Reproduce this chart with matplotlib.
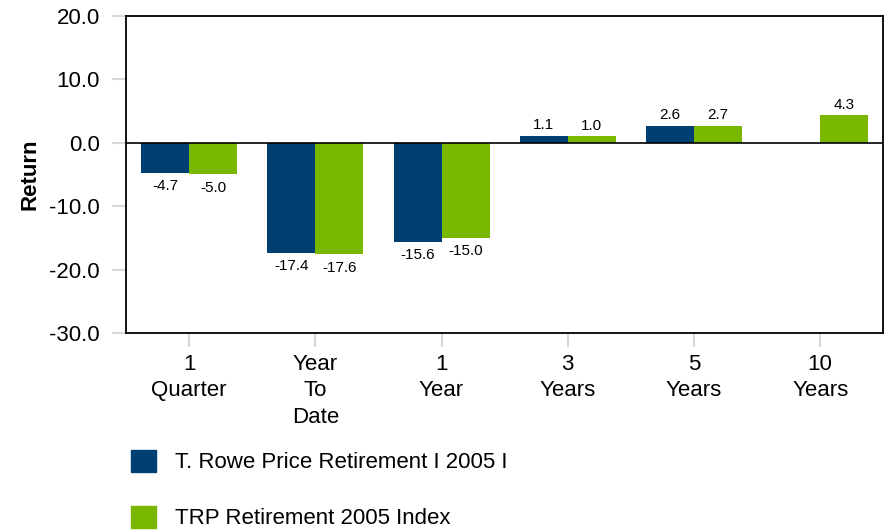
import matplotlib
matplotlib.use("Agg")
from matplotlib import pyplot as plt
from matplotlib.patches import Patch
import numpy as np

plt.rcParams["font.family"] = ["Liberation Sans", "DejaVu Sans"]

categories = ["1\nQuarter", "Year\nTo\nDate", "1\nYear", "3\nYears", "5\nYears", "10\nYears"]
fund = [-4.7, -17.4, -15.6, 1.1, 2.6, np.nan]
index = [-5.0, -17.6, -15.0, 1.0, 2.7, 4.3]
series_names = ["T. Rowe Price Retirement I 2005 I", "TRP Retirement 2005 Index"]

blue = "#003f72"
green = "#7ab800"

fig = plt.figure(figsize=(8.94, 5.31), dpi=100)
ax = fig.add_axes([0.141, 0.373, 0.847, 0.597])

x = np.arange(len(categories))
w = 0.38
ax.bar(x - w / 2, fund, w, color=blue)
ax.bar(x + w / 2, index, w, color=green)

# value labels
for xs, vals in [(x - w / 2, fund), (x + w / 2, index)]:
    for xi, v in zip(xs, vals):
        if np.isnan(v):
            continue
        if v < 0:
            ax.text(xi, v - 1.0, f"{v:.1f}", ha="center", va="top", fontsize=11)
        else:
            ax.text(xi, v + 0.6, f"{v:.1f}", ha="center", va="bottom", fontsize=11)

ax.axhline(0, color="black", linewidth=1.2)
ax.set_xlim(-0.5, len(categories) - 0.5)
ax.set_ylim(-30, 20)
ax.set_yticks(np.arange(-30, 21, 10))
ax.set_yticklabels([f"{t:.1f}" for t in np.arange(-30, 21, 10)])
ax.set_xticks(x)
ax.set_xticklabels(categories, linespacing=1.35)
ax.tick_params(axis="both", labelsize=16, color="#d8d8d8", length=10, width=1.5)
ax.tick_params(axis="x", pad=5)
ax.tick_params(axis="y", pad=9)
for s in ax.spines.values():
    s.set_color("black")
    s.set_linewidth(1.3)
ax.set_ylabel("Return", fontsize=16, fontweight="bold", labelpad=6)

handles = [Patch(color=blue), Patch(color=green)]
fig.legend(handles, series_names, loc="upper left", bbox_to_anchor=(0.147, 0.153),
           frameon=False, fontsize=16, handlelength=1.1, handleheight=1.15,
           labelspacing=1.45, handletextpad=0.85, borderaxespad=0, borderpad=0)

fig.savefig("out.png", dpi=100)
